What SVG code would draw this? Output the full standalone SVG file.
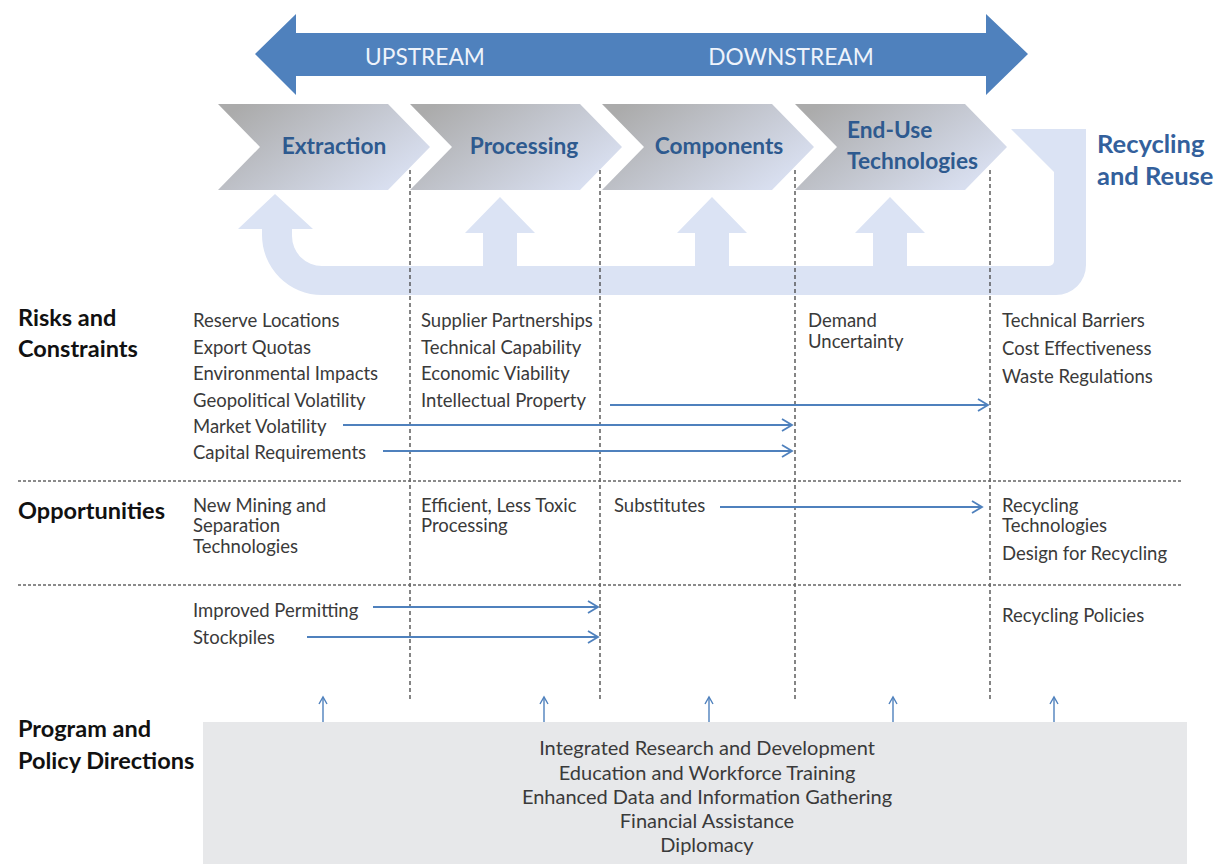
<svg xmlns="http://www.w3.org/2000/svg" width="1221" height="864" viewBox="0 0 1221 864">
<style>
  .body { font-family: Lato, "Liberation Sans", sans-serif; font-size: 18.5px; fill: #3a3a3a; }
  .head { font-family: Lato, "Liberation Sans", sans-serif; font-size: 23.5px; font-weight: bold; fill: #111; }
  .chev { font-family: Lato, "Liberation Sans", sans-serif; font-size: 22.7px; font-weight: bold; fill: #2E5A8F; }
  .rec { font-family: Lato, "Liberation Sans", sans-serif; font-size: 25.5px; font-weight: bold; fill: #33609C; }
  .stream { font-family: Lato, "Liberation Sans", sans-serif; font-size: 22.7px; fill: #EEF3FB; text-anchor: middle; }
  .policy { font-family: Lato, "Liberation Sans", sans-serif; font-size: 20px; fill: #3a3a3a; text-anchor: middle; }
  .vdash { stroke: #444; stroke-width: 1.3; stroke-dasharray: 4 3; fill: none; }
  .hdash { stroke: #666; stroke-width: 1.3; stroke-dasharray: 3 2; fill: none; }
  .conn { stroke: #4F81BD; stroke-width: 1.8; fill: none; marker-end: url(#open); }
  .up { stroke: #4F81BD; stroke-width: 1.4; fill: none; marker-end: url(#openSmall); }
</style>
<defs>
  <linearGradient id="chevGrad" x1="0" y1="0.2" x2="1" y2="0.8">
    <stop offset="0" stop-color="#ABABAB"/>
    <stop offset="1" stop-color="#DCE3F5"/>
  </linearGradient>
  <marker id="open" markerUnits="userSpaceOnUse" markerWidth="14" markerHeight="14" refX="11" refY="7" orient="auto">
    <path d="M1,1 L11,7 L1,13" fill="none" stroke="#4F81BD" stroke-width="1.8"/>
  </marker>
  <marker id="openSmall" markerUnits="userSpaceOnUse" markerWidth="10" markerHeight="10" refX="8" refY="5" orient="auto">
    <path d="M1,1 L8,5 L1,9" fill="none" stroke="#4F81BD" stroke-width="1.4"/>
  </marker>
</defs>

<!-- Upstream / Downstream double arrow -->
<g id="stream-arrow">
  <polygon points="255,54 296,14 296,33 986,33 986,14 1028,54 986,95 986,76 296,76 296,95" fill="#4F81BD"/>
  <text class="stream" x="425" y="65">UPSTREAM</text>
  <text class="stream" x="791" y="65">DOWNSTREAM</text>
</g>

<!-- Recycling loop (light blue U with up arrows) -->
<g id="recycling-loop">
  <path d="M275,194 L313,229 L292,229 L292,236 A30,30 0 0 0 322,266 L483,266 L483,233 L465,233 L500,197 L535,233 L517,233 L517,266 L695,266 L695,233 L677,233 L712,197 L747,233 L729,233 L729,266 L873,266 L873,233 L855,233 L890,197 L925,233 L907,233 L907,266 L1049,266 A5,5 0 0 0 1054,261 L1054,172 L1011,129 L1086,129 L1086,265 A30,30 0 0 1 1056,295 L322,295 A60,60 0 0 1 262,235 L262,229 L238,229 Z" fill="#DBE3F4"/>
  <text class="rec" x="1097" y="153">Recycling</text>
  <text class="rec" x="1097" y="185">and Reuse</text>
</g>

<!-- Chevrons -->
<g id="extraction">
  <polygon points="218,104 388,104 430,147 388,190 218,190 260,147" fill="url(#chevGrad)"/>
  <text class="chev" x="334" y="154" text-anchor="middle">Extraction</text>
</g>
<g id="processing">
  <polygon points="410,104 580,104 622,147 580,190 410,190 452,147" fill="url(#chevGrad)"/>
  <text class="chev" x="524" y="154" text-anchor="middle">Processing</text>
</g>
<g id="components">
  <polygon points="602,104 772,104 814,147 772,190 602,190 644,147" fill="url(#chevGrad)"/>
  <text class="chev" x="719" y="154" text-anchor="middle">Components</text>
</g>
<g id="end-use">
  <polygon points="795,104 965,104 1007,147 965,190 795,190 837,147" fill="url(#chevGrad)"/>
  <text class="chev" x="847" y="138">End-Use</text>
  <text class="chev" x="847" y="169">Technologies</text>
</g>

<!-- Grid dashed lines -->
<g id="grid">
  <line class="vdash" x1="410" y1="170" x2="410" y2="700"/>
  <line class="vdash" x1="600" y1="170" x2="600" y2="700"/>
  <line class="vdash" x1="795" y1="170" x2="795" y2="700"/>
  <line class="vdash" x1="990" y1="170" x2="990" y2="700"/>
  <line class="hdash" x1="18" y1="481" x2="1181" y2="481"/>
  <line class="hdash" x1="18" y1="585" x2="1181" y2="585"/>
</g>

<!-- Row headings -->
<g id="row-risks">
  <text class="head" x="18" y="326">Risks and</text>
  <text class="head" x="18" y="357">Constraints</text>
</g>
<g id="row-opportunities">
  <text class="head" x="18" y="519">Opportunities</text>
</g>
<g id="row-program">
  <text class="head" x="18" y="737">Program and</text>
  <text class="head" x="18" y="769">Policy Directions</text>
</g>

<!-- Risks cells -->
<g id="risks-extraction">
  <text class="body" x="193" y="327">Reserve Locations</text>
  <text class="body" x="193" y="354">Export Quotas</text>
  <text class="body" x="193" y="380">Environmental Impacts</text>
  <text class="body" x="193" y="407">Geopolitical Volatility</text>
  <text class="body" x="193" y="433">Market Volatility</text>
  <text class="body" x="193" y="459">Capital Requirements</text>
</g>
<g id="risks-processing">
  <text class="body" x="421" y="327">Supplier Partnerships</text>
  <text class="body" x="421" y="354">Technical Capability</text>
  <text class="body" x="421" y="380">Economic Viability</text>
  <text class="body" x="421" y="407">Intellectual Property</text>
</g>
<g id="risks-enduse">
  <text class="body" x="808" y="327">Demand</text>
  <text class="body" x="808" y="348">Uncertainty</text>
</g>
<g id="risks-recycling">
  <text class="body" x="1002" y="327">Technical Barriers</text>
  <text class="body" x="1002" y="355">Cost Effectiveness</text>
  <text class="body" x="1002" y="383">Waste Regulations</text>
</g>

<!-- Opportunities cells -->
<g id="opp-extraction">
  <text class="body" x="193" y="512">New Mining and</text>
  <text class="body" x="193" y="532">Separation</text>
  <text class="body" x="193" y="553">Technologies</text>
</g>
<g id="opp-processing">
  <text class="body" x="421" y="512">Efficient, Less Toxic</text>
  <text class="body" x="421" y="532">Processing</text>
</g>
<g id="opp-components">
  <text class="body" x="614" y="512">Substitutes</text>
</g>
<g id="opp-recycling">
  <text class="body" x="1002" y="512">Recycling</text>
  <text class="body" x="1002" y="532">Technologies</text>
  <text class="body" x="1002" y="560">Design for Recycling</text>
</g>

<!-- Policy row cells -->
<g id="pol-extraction">
  <text class="body" x="193" y="617">Improved Permitting</text>
  <text class="body" x="193" y="644">Stockpiles</text>
</g>
<g id="pol-recycling">
  <text class="body" x="1002" y="622">Recycling Policies</text>
</g>

<!-- Program box -->
<g id="program-box">
  <rect x="203" y="722" width="984" height="142" fill="#E7E8EA"/>
  <text class="policy" x="707" y="755">Integrated Research and Development</text>
  <text class="policy" x="707" y="780">Education and Workforce Training</text>
  <text class="policy" x="707" y="804">Enhanced Data and Information Gathering</text>
  <text class="policy" x="707" y="828">Financial Assistance</text>
  <text class="policy" x="707" y="852">Diplomacy</text>
</g>

<!-- Connectors -->
<g id="connectors">
  <line class="conn" x1="610" y1="405" x2="988" y2="405"/>
  <line class="conn" x1="343" y1="425" x2="792" y2="425"/>
  <line class="conn" x1="383" y1="451" x2="792" y2="451"/>
  <line class="conn" x1="720" y1="507" x2="982" y2="507"/>
  <line class="conn" x1="373" y1="607" x2="598" y2="607"/>
  <line class="conn" x1="307" y1="637" x2="598" y2="637"/>
  <line class="up" x1="323" y1="722" x2="323" y2="697"/>
  <line class="up" x1="544" y1="722" x2="544" y2="697"/>
  <line class="up" x1="709" y1="722" x2="709" y2="697"/>
  <line class="up" x1="893" y1="722" x2="893" y2="697"/>
  <line class="up" x1="1054" y1="722" x2="1054" y2="697"/>
</g>
</svg>
